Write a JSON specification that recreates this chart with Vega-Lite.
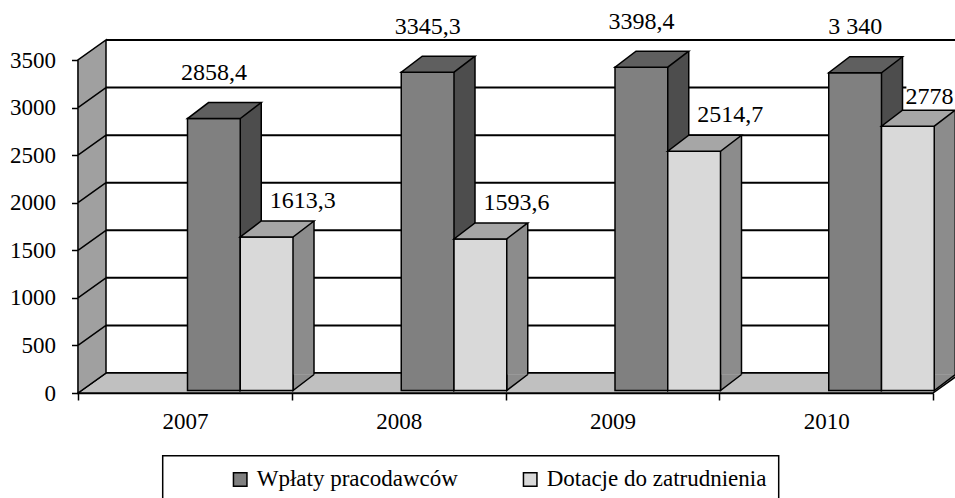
{
  "$schema": "https://vega.github.io/schema/vega-lite/v6.json",
  "width": 849,
  "height": 353,
  "autosize": {"type": "none"},
  "padding": {"left": 106, "top": 40, "right": 0, "bottom": 105},
  "background": "white",
  "config": {
    "view": {"stroke": null},
    "font": "Liberation Serif",
    "legend": {"strokeWidth": 1.5},
    "axisX": {"labelFont": "Liberation Serif", "labelFontSize": 23, "labelColor": "black", "labelAlign": "center", "labelBaseline": "top", "labelAngle": 0, "labelPadding": 10, "tickSize": 7, "tickWidth": 1.5, "tickColor": "black", "domainColor": "black", "domainWidth": 1.5, "grid": false},
    "axisY": {"labelFont": "Liberation Serif", "labelFontSize": 23, "labelColor": "black", "labelPadding": 16, "tickSize": 6.5, "tickWidth": 1.5, "tickColor": "black", "domainColor": "black", "domainWidth": 1.5, "grid": false}
  },
  "datasets": {
    "bars": [
      {"year": "2007", "series": "Wpłaty pracodawców", "value": 2858.4, "label": "2858,4"},
      {"year": "2007", "series": "Dotacje do zatrudnienia", "value": 1613.3, "label": "1613,3"},
      {"year": "2008", "series": "Wpłaty pracodawców", "value": 3345.3, "label": "3345,3"},
      {"year": "2008", "series": "Dotacje do zatrudnienia", "value": 1593.6, "label": "1593,6"},
      {"year": "2009", "series": "Wpłaty pracodawców", "value": 3398.4, "label": "3398,4"},
      {"year": "2009", "series": "Dotacje do zatrudnienia", "value": 2514.7, "label": "2514,7"},
      {"year": "2010", "series": "Wpłaty pracodawców", "value": 3340, "label": "3 340"},
      {"year": "2010", "series": "Dotacje do zatrudnienia", "value": 2778, "label": "2778"}
    ],
    "grid": [{"v": 0}, {"v": 500}, {"v": 1000}, {"v": 1500}, {"v": 2000}, {"v": 2500}, {"v": 3000}, {"v": 3500}],
    "frame": [{"part": "frame"}]
  },
  "layer": [
    {
      "data": {"name": "grid"},
      "mark": {"type": "rule", "yOffset": -20, "stroke": "black", "strokeWidth": 2},
      "encoding": {
        "y": {
          "field": "v", "type": "quantitative",
          "scale": {"domain": [0, 3500], "range": [353, 20], "nice": false, "zero": true},
          "axis": {"offset": 28, "values": [0, 500, 1000, 1500, 2000, 2500, 3000, 3500], "format": "d", "title": null}
        }
      }
    },
    {
      "data": {"name": "frame"},
      "mark": {"type": "point", "shape": "M-106.875,0L748.125,0L776.125,-20L-78.875,-20Z", "size": 4, "filled": true, "fill": "#c0c0c0", "stroke": "black", "strokeWidth": 1.5, "opacity": 1},
      "encoding": {
        "x": {"datum": "2007", "type": "nominal", "scale": {"type": "band", "domain": ["2007", "2008", "2009", "2010"], "range": [-28, 827], "paddingInner": 0, "paddingOuter": 0}},
        "y": {"datum": 0, "type": "quantitative"}
      }
    },
    {
      "data": {"name": "frame"},
      "mark": {"type": "point", "shape": "M-106.875,0L-106.875,-333L-78.875,-353L-78.875,-20ZM-106.875,-47.571L-78.875,-67.571M-106.875,-95.143L-78.875,-115.143M-106.875,-142.714L-78.875,-162.714M-106.875,-190.286L-78.875,-210.286M-106.875,-237.857L-78.875,-257.857M-106.875,-285.429L-78.875,-305.429", "size": 4, "filled": true, "fill": "#a0a0a0", "stroke": "black", "strokeWidth": 1.5, "opacity": 1},
      "encoding": {
        "x": {"datum": "2007", "type": "nominal"},
        "y": {"datum": 0, "type": "quantitative"}
      }
    },
    {
      "data": {"name": "bars"},
      "transform": [{"filter": "datum.series === 'Wpłaty pracodawców'"}],
      "mark": {"type": "bar", "width": 21, "xOffset": 65.875, "yOffset": -18.5, "y2Offset": -18.5, "strokeWidth": 0, "fill": "#4d4d4d"},
      "encoding": {
        "x": {"field": "year", "type": "nominal"},
        "y": {"field": "value", "type": "quantitative", "stack": null},
        "y2": {"datum": 0}
      }
    },
    {
      "data": {"name": "bars"},
      "transform": [{"filter": "datum.series === 'Wpłaty pracodawców'"}],
      "mark": {"type": "rule", "xOffset": 76.375, "yOffset": -18.5, "y2Offset": -18.5, "stroke": "black", "strokeWidth": 1.5},
      "encoding": {
        "x": {"field": "year", "type": "nominal"},
        "y": {"field": "value", "type": "quantitative", "stack": null},
        "y2": {"datum": 0}
      }
    },
    {
      "data": {"name": "bars"},
      "transform": [{"filter": "datum.series === 'Dotacje do zatrudnienia'"}],
      "mark": {"type": "bar", "width": 21, "xOffset": 118.625, "yOffset": -18.5, "y2Offset": -18.5, "strokeWidth": 0, "fill": "#8c8c8c"},
      "encoding": {
        "x": {"field": "year", "type": "nominal"},
        "y": {"field": "value", "type": "quantitative", "stack": null},
        "y2": {"datum": 0}
      }
    },
    {
      "data": {"name": "bars"},
      "transform": [{"filter": "datum.series === 'Dotacje do zatrudnienia'"}],
      "mark": {"type": "rule", "xOffset": 129.125, "yOffset": -18.5, "y2Offset": -18.5, "stroke": "black", "strokeWidth": 1.5},
      "encoding": {
        "x": {"field": "year", "type": "nominal"},
        "y": {"field": "value", "type": "quantitative", "stack": null},
        "y2": {"datum": 0}
      }
    },
    {
      "data": {"name": "bars"},
      "mark": {"type": "point", "shape": "M26.375,-16L26.375,0L47.375,-16", "size": 4, "filled": true, "stroke": "black", "strokeWidth": 1.5, "opacity": 1, "yOffset": -2.5},
      "encoding": {
        "x": {"field": "year", "type": "nominal"},
        "xOffset": {"field": "series", "type": "nominal", "scale": {"type": "band", "domain": ["Wpłaty pracodawców", "Dotacje do zatrudnienia"], "range": [109.5, 215], "paddingInner": 0, "paddingOuter": 0}},
        "y": {"datum": 0, "type": "quantitative"},
        "fill": {"condition": {"test": "datum.series === 'Wpłaty pracodawców'", "value": "#4d4d4d"}, "value": "#8c8c8c"}
      }
    },
    {
      "data": {"name": "bars"},
      "mark": {"type": "bar", "stroke": "black", "strokeWidth": 1.5, "yOffset": -2.5, "y2Offset": -2.5},
      "encoding": {
        "x": {
          "field": "year", "type": "nominal",
          "axis": {"title": null, "tickBand": "extent", "labelOffset": 0, "labelFlush": false, "labelBound": false}
        },
        "xOffset": {"field": "series", "type": "nominal"},
        "y": {"field": "value", "type": "quantitative", "stack": null},
        "y2": {"datum": 0},
        "color": {
          "field": "series", "type": "nominal",
          "scale": {"domain": ["Wpłaty pracodawców", "Dotacje do zatrudnienia"], "range": ["#808080", "#d9d9d9"]},
          "legend": {
            "orient": "none", "legendX": 56.7, "legendY": 415.7, "direction": "horizontal", "title": null,
            "padding": 12, "strokeColor": "black",
            "symbolType": "square", "symbolSize": 182, "symbolStrokeColor": "black", "symbolStrokeWidth": 1.5, "symbolOpacity": 1, "symbolOffset": 54,
            "labelFont": "Liberation Serif", "labelFontSize": 23, "labelColor": "black", "labelOffset": 5, "labelLimit": 500,
            "columnPadding": 6
          }
        }
      }
    },
    {
      "data": {"name": "bars"},
      "mark": {"type": "point", "shape": "M-26.375,0L26.375,0L47.375,-16L-5.375,-16Z", "size": 4, "filled": true, "stroke": "black", "strokeWidth": 1.5, "opacity": 1, "yOffset": -2.5},
      "encoding": {
        "x": {"field": "year", "type": "nominal"},
        "xOffset": {"field": "series", "type": "nominal"},
        "y": {"field": "value", "type": "quantitative", "stack": null},
        "fill": {"condition": {"test": "datum.series === 'Wpłaty pracodawców'", "value": "#5f5f5f"}, "value": "#a6a6a6"}
      }
    },
    {
      "data": {"name": "bars"},
      "transform": [{"filter": "datum.series === 'Wpłaty pracodawców'"}],
      "mark": {"type": "text", "font": "Liberation Serif", "fontSize": 24, "color": "black", "align": "center", "baseline": "middle", "dy": -48},
      "encoding": {
        "x": {"field": "year", "type": "nominal"},
        "xOffset": {"field": "series", "type": "nominal"},
        "y": {"field": "value", "type": "quantitative", "stack": null},
        "text": {"field": "label"}
      }
    },
    {
      "data": {"name": "bars"},
      "transform": [{"filter": "datum.series === 'Dotacje do zatrudnienia' && datum.year !== '2010'"}],
      "mark": {"type": "text", "font": "Liberation Serif", "fontSize": 24, "color": "black", "align": "center", "baseline": "middle", "dx": 36, "dy": -38.5},
      "encoding": {
        "x": {"field": "year", "type": "nominal"},
        "xOffset": {"field": "series", "type": "nominal"},
        "y": {"field": "value", "type": "quantitative", "stack": null},
        "text": {"field": "label"}
      }
    },
    {
      "data": {"name": "bars"},
      "transform": [{"filter": "datum.series === 'Dotacje do zatrudnienia' && datum.year === '2010'"}],
      "mark": {"type": "point", "shape": "M-1.5,-44L55,-44L55,-25L-1.5,-25Z", "size": 4, "filled": true, "fill": "white", "strokeWidth": 0, "opacity": 1},
      "encoding": {
        "x": {"field": "year", "type": "nominal"},
        "xOffset": {"field": "series", "type": "nominal"},
        "y": {"field": "value", "type": "quantitative", "stack": null}
      }
    },
    {
      "data": {"name": "bars"},
      "transform": [{"filter": "datum.series === 'Dotacje do zatrudnienia' && datum.year === '2010'"}],
      "mark": {"type": "text", "font": "Liberation Serif", "fontSize": 24, "color": "black", "align": "center", "baseline": "middle", "dx": 21.6, "dy": -32},
      "encoding": {
        "x": {"field": "year", "type": "nominal"},
        "xOffset": {"field": "series", "type": "nominal"},
        "y": {"field": "value", "type": "quantitative", "stack": null},
        "text": {"field": "label"}
      }
    }
  ]
}
